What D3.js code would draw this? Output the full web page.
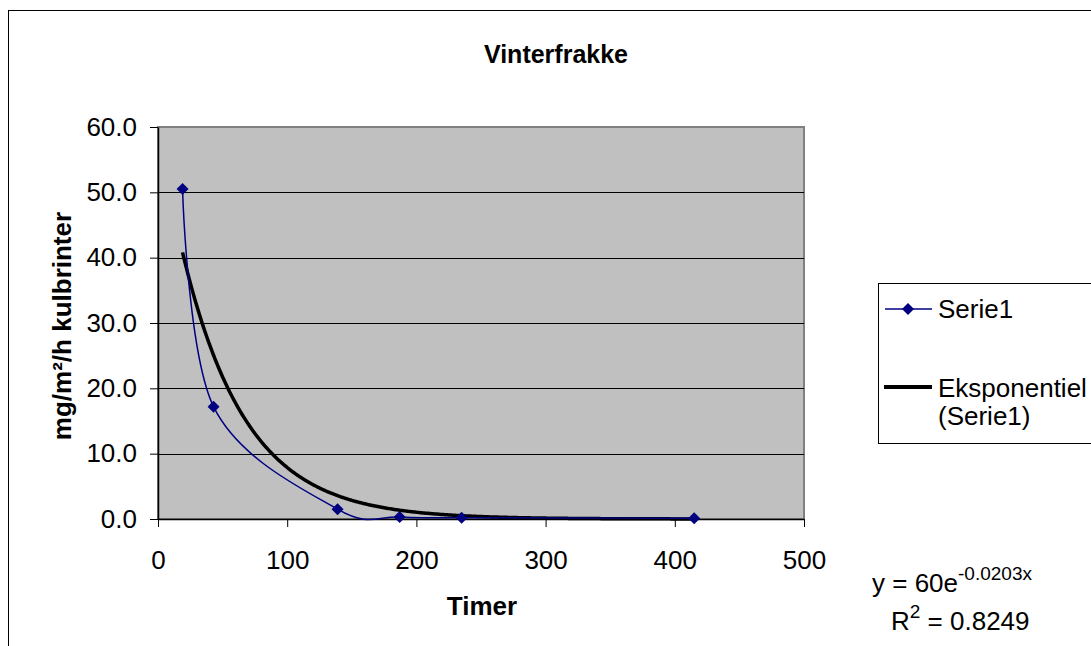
<!DOCTYPE html>
<html>
<head>
<meta charset="utf-8">
<script src="https://cdn.jsdelivr.net/npm/d3@7"></script>
<style>
  html, body { margin: 0; padding: 0; background: #fff; }
  svg { display: block; font-family: "Liberation Sans", Arial, sans-serif; }
</style>
</head>
<body>
<svg id="chart" width="1091" height="646"></svg>
<script>
// Emission measurements over time
const hours = [19, 43, 139, 187, 235, 415];
const emission = [50.5, 17.2, 1.5, 0.3, 0.2, 0.1];
const xTicks = [0, 100, 200, 300, 400, 500];
const yTicks = [0, 10, 20, 30, 40, 50, 60];
// Exponential trend: y = a * e^(b x)
const trendA = 60;
const trendB = -0.0203;
const trendR2 = 0.8249;

const FONT = 26;
const SUP = 19;
const svg = d3.select("#chart");
const plot = { left: 158, top: 127, right: 804, bottom: 519 };

const x = d3.scaleLinear().domain([0, 500]).range([plot.left, plot.right]);
const y = d3.scaleLinear().domain([0, 60]).range([plot.bottom, plot.top]);

// outer chart border
svg.append("rect")
  .attr("x", 8.5).attr("y", 10.5)
  .attr("width", 1200).attr("height", 800)
  .attr("fill", "#fff").attr("stroke", "#000").attr("stroke-width", 1);

// plot background
svg.append("rect")
  .attr("x", plot.left).attr("y", plot.top)
  .attr("width", plot.right - plot.left).attr("height", plot.bottom - plot.top)
  .attr("fill", "#c0c0c0").attr("stroke", "#808080").attr("stroke-width", 2);

// horizontal gridlines
svg.append("g").selectAll("line")
  .data(yTicks.filter(d => d > 0 && d < 60))
  .join("line")
  .attr("x1", plot.left).attr("x2", plot.right)
  .attr("y1", d => Math.round(y(d)) + 0.5).attr("y2", d => Math.round(y(d)) + 0.5)
  .attr("stroke", "#000").attr("stroke-width", 1);

// axes
const yAxis = d3.axisLeft(y).tickValues(yTicks).tickFormat(d3.format(".1f"))
  .tickSizeOuter(0).tickSizeInner(8).tickPadding(13);
const xAxis = d3.axisBottom(x).tickValues(xTicks).tickFormat(d3.format("d"))
  .tickSizeOuter(0).tickSizeInner(8).tickPadding(24);

const gy = svg.append("g").attr("transform", `translate(${plot.left},0)`).call(yAxis);
const gx = svg.append("g").attr("transform", `translate(0,${plot.bottom})`).call(xAxis);
[gy, gx].forEach(g => {
  g.select(".domain").attr("stroke", "#000").attr("stroke-width", 1.5);
  g.selectAll(".tick line").attr("stroke", "#000").attr("stroke-width", 1);
  g.selectAll(".tick text").attr("fill", "#000")
    .style("font-family", "Liberation Sans, Arial, sans-serif").style("font-size", FONT + "px");
});

// trendline
const trendX = d3.range(hours[0], hours[hours.length - 1] + 0.5, 1);
svg.append("path")
  .datum(trendX)
  .attr("fill", "none").attr("stroke", "#000").attr("stroke-width", 3.5)
  .attr("d", d3.line().x(d => x(d)).y(d => y(trendA * Math.exp(trendB * d))));

// smoothed data series
const pts = hours.map((h, i) => [h, emission[i]]);
svg.append("path")
  .datum(pts)
  .attr("fill", "none").attr("stroke", "#000080").attr("stroke-width", 1.5)
  .attr("d", d3.line().x(d => x(d[0])).y(d => y(d[1])).curve(d3.curveCardinal.tension(0)));

const marker = d3.symbol().type(d3.symbolSquare).size(72);
svg.append("g").selectAll("path")
  .data(pts)
  .join("path")
  .attr("transform", d => `translate(${x(d[0])},${y(d[1])}) rotate(45)`)
  .attr("d", marker)
  .attr("fill", "#000080");

// title
svg.append("text").attr("x", 556).attr("y", 63).attr("text-anchor", "middle")
  .style("font-weight", "bold").style("font-size", "25px").text("Vinterfrakke");

// axis titles
svg.append("text").attr("x", 482).attr("y", 615).attr("text-anchor", "middle")
  .style("font-weight", "bold").style("font-size", FONT + "px").text("Timer");
svg.append("text").attr("transform", "translate(71,326) rotate(-90)").attr("text-anchor", "middle")
  .style("font-weight", "bold").style("font-size", FONT + "px").text("mg/m²/h kulbrinter");

// legend
const lg = svg.append("g");
lg.append("rect").attr("x", 878.5).attr("y", 283.5).attr("width", 300).attr("height", 160)
  .attr("fill", "#fff").attr("stroke", "#000").attr("stroke-width", 1);
lg.append("line").attr("x1", 885).attr("x2", 932).attr("y1", 309).attr("y2", 309)
  .attr("stroke", "#000080").attr("stroke-width", 1.5);
lg.append("path").attr("transform", "translate(908,309) rotate(45)")
  .attr("d", marker).attr("fill", "#000080");
lg.append("text").attr("x", 938).attr("y", 318).style("font-size", FONT + "px").text("Serie1");
lg.append("line").attr("x1", 884).attr("x2", 932).attr("y1", 387).attr("y2", 387)
  .attr("stroke", "#000").attr("stroke-width", 4);
lg.append("text").attr("x", 938).attr("y", 397).style("font-size", FONT + "px").text("Eksponentiel");
lg.append("text").attr("x", 938).attr("y", 425).style("font-size", FONT + "px").text("(Serie1)");

// trend equation and R²
const eq = svg.append("text").attr("x", 872).attr("y", 592).style("font-size", FONT + "px");
eq.append("tspan").text(`y = ${trendA}e`);
eq.append("tspan").attr("dy", -12).style("font-size", SUP + "px").text(`${trendB}x`);
const r2 = svg.append("text").attr("x", 891).attr("y", 630).style("font-size", FONT + "px");
r2.append("tspan").text("R");
r2.append("tspan").attr("dy", -12).style("font-size", SUP + "px").text("2");
r2.append("tspan").attr("dy", 12).text(` = ${trendR2}`);
</script>
</body>
</html>
